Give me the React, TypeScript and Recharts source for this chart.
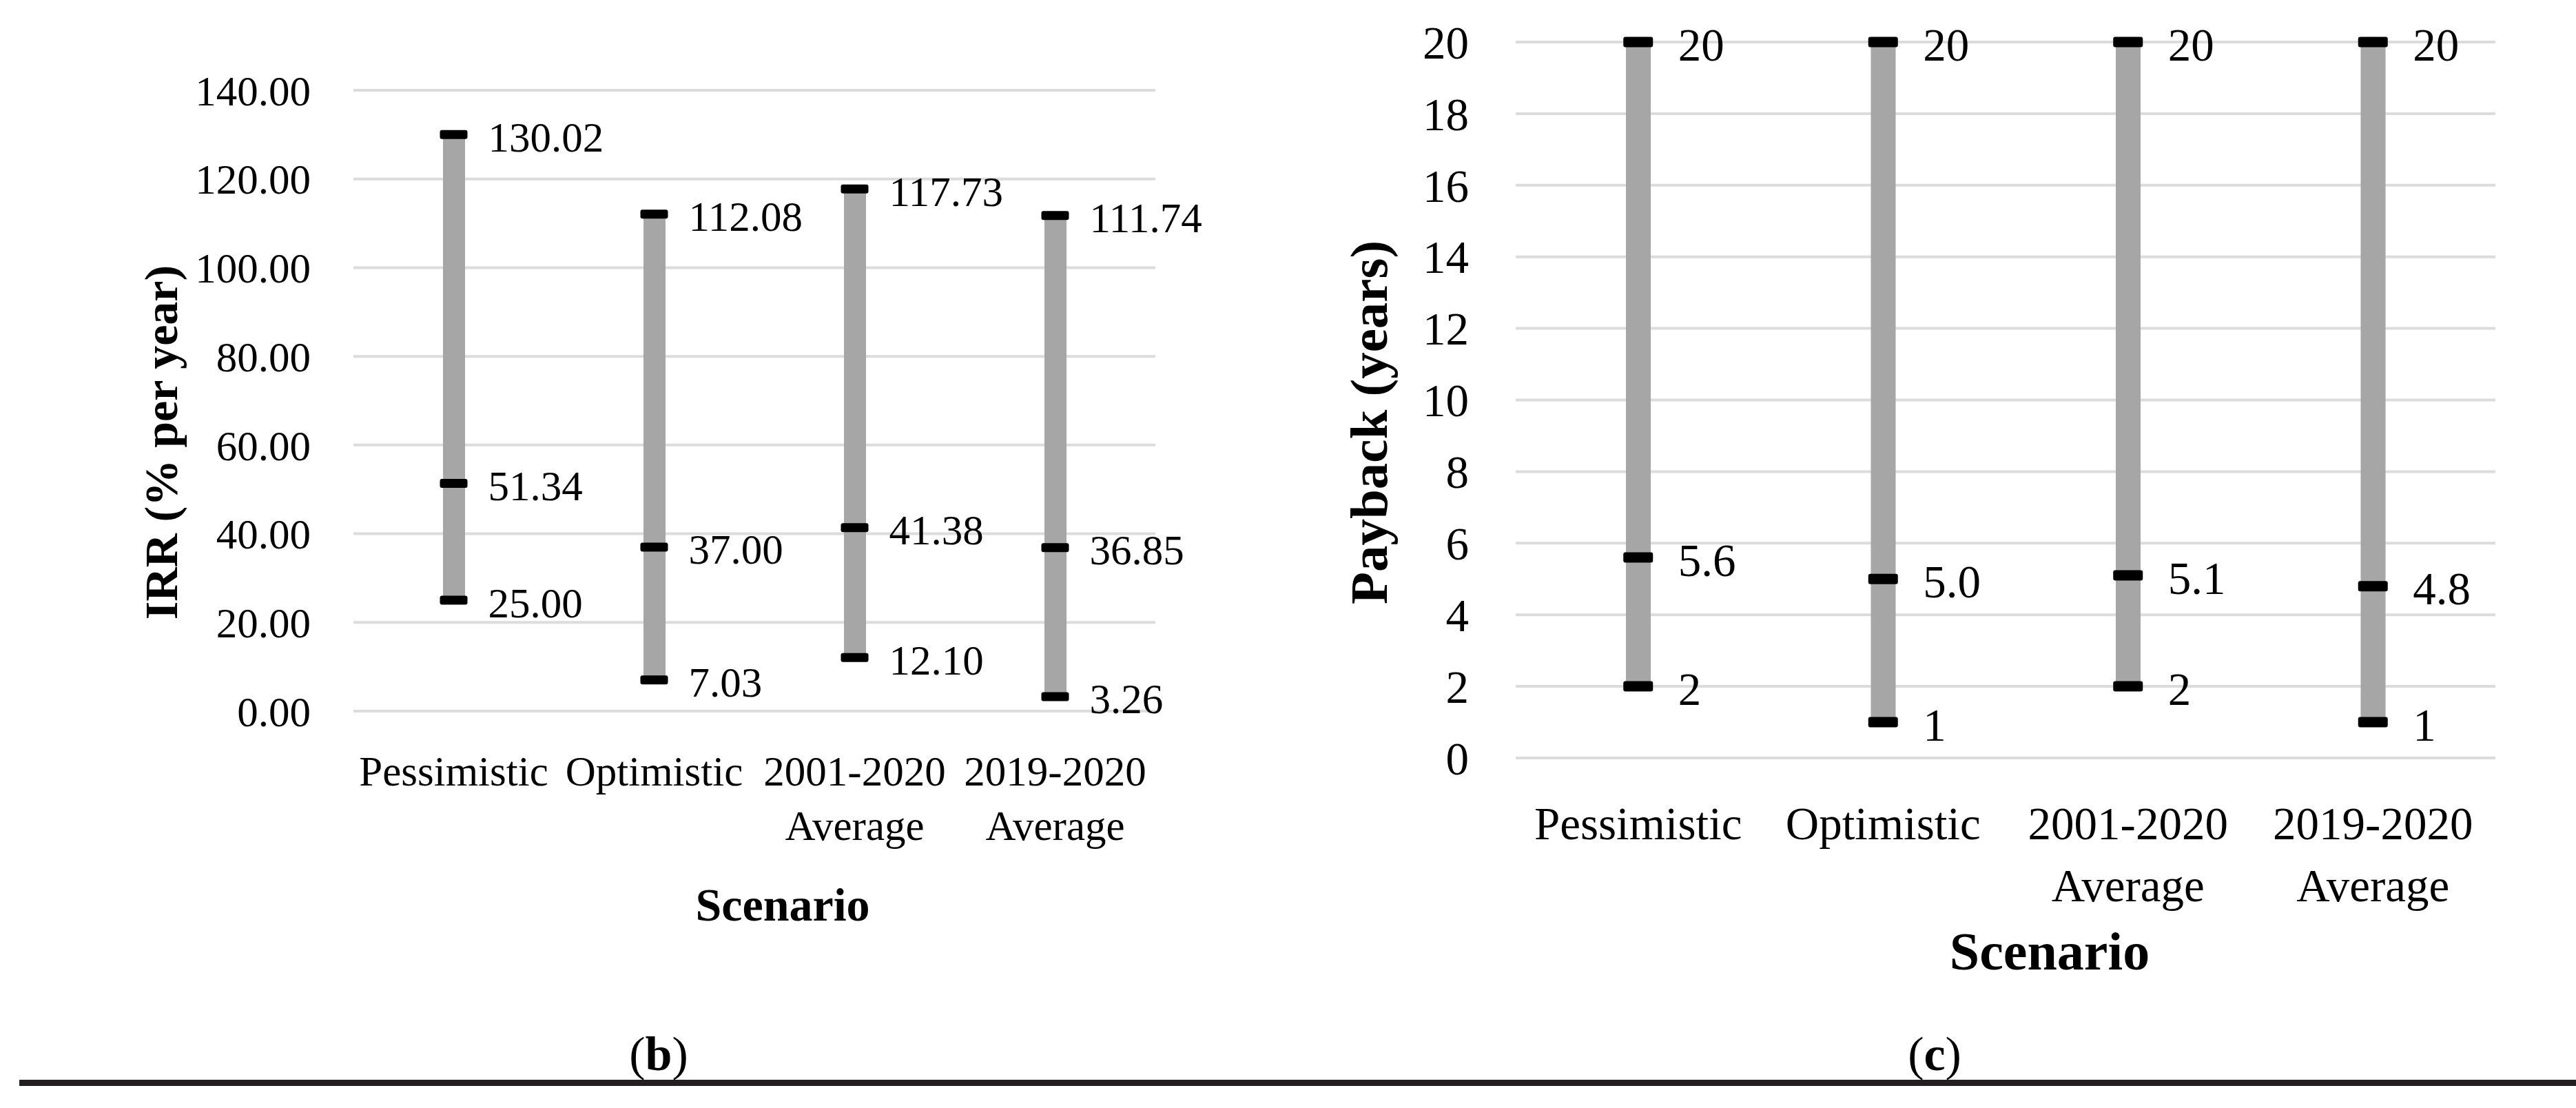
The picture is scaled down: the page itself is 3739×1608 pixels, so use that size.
import { ComposedChart, Bar, Line, XAxis, YAxis, CartesianGrid, LabelList, Label } from 'recharts';

const scenarios = ['Pessimistic', 'Optimistic', '2001-2020 Average', '2019-2020 Average'];

// IRR (% per year)
const irrLow = [25.0, 7.03, 12.1, 3.26];
const irrMid = [51.34, 37.0, 41.38, 36.85];
const irrHigh = [130.02, 112.08, 117.73, 111.74];
const irrTicks = [0, 20, 40, 60, 80, 100, 120, 140];

// Payback (years)
const paybackLow = [2, 1, 2, 1];
const paybackMid = [5.6, 5.0, 5.1, 4.8];
const paybackHigh = [20, 20, 20, 20];
const paybackTicks = [0, 2, 4, 6, 8, 10, 12, 14, 16, 18, 20];

const FONT = '"Liberation Serif", "Times New Roman", serif';
const BAR_GREY = '#a6a6a6';
const GRID = '#dcdcdc';

const buildRows = (low: number[], mid: number[], high: number[]) =>
    scenarios.map((name, i) => ({
        name,
        range: [low[i], high[i]],
        low: low[i],
        mid: mid[i],
        high: high[i],
    }));

const irrRows = buildRows(irrLow, irrMid, irrHigh);
const paybackRows = buildRows(paybackLow, paybackMid, paybackHigh);

function ScenarioTick(props: any) {
    const { x, y, payload, fontSize, firstGap, lineGap } = props;
    const lines = String(payload.value).split(' ');
    return (
        <text x={x} y={y} textAnchor="middle" fontFamily={FONT} fontSize={fontSize} fill="#000">
            {lines.map((ln, i) => (
                <tspan key={i} x={x} y={y + firstGap + i * lineGap}>
                    {ln}
                </tspan>
            ))}
        </text>
    );
}

type ChartProps = {
    rows: any[];
    width: number;
    height: number;
    margin: { top: number; right: number; left: number; bottom: number };
    yWidth: number;
    xHeight: number;
    domain: [number, number];
    ticks: number[];
    tickFmt: (v: number) => string;
    lowFmt: (v: number) => string;
    midFmt: (v: number) => string;
    highFmt: (v: number) => string;
    fontSize: number;
    tickMargin: number;
    firstGap: number;
    lineGap: number;
    barSize: number;
    capW: number;
    capH: number;
    labelOffset: number;
    yTitle: string;
    yTitleX: number;
    yTitleY: number;
    yTitleSize: number;
    xTitleX: number;
    xTitleY: number;
    xTitleSize: number;
};

function RangeChart(p: ChartProps) {
    const cap = (props: any) => {
        const { cx, cy, index } = props;
        if (cx == null || cy == null) return <g key={`c-${index}`} />;
        return (
            <rect
                key={`c-${index}`}
                x={cx - p.capW / 2}
                y={cy - p.capH / 2}
                width={p.capW}
                height={p.capH}
                rx={3}
                fill="#000"
            />
        );
    };

    const valueLabel = (fmt: (v: number) => string) => (props: any) => {
        const x = props.x ?? props.viewBox?.x;
        const y = props.y ?? props.viewBox?.y;
        return (
            <text
                x={x + p.labelOffset}
                y={y}
                dy="0.4em"
                fontFamily={FONT}
                fontSize={p.fontSize}
                fill="#000"
            >
                {fmt(Number(props.value))}
            </text>
        );
    };

    const series: [string, (v: number) => string][] = [
        ['low', p.lowFmt],
        ['mid', p.midFmt],
        ['high', p.highFmt],
    ];

    return (
        <ComposedChart width={p.width} height={p.height} data={p.rows} margin={p.margin}>
            <CartesianGrid vertical={false} stroke={GRID} strokeWidth={4} />
            <XAxis
                dataKey="name"
                interval={0}
                axisLine={false}
                tickLine={false}
                tickSize={0}
                tickMargin={0}
                height={p.xHeight}
                tick={(t: any) => (
                    <ScenarioTick {...t} fontSize={p.fontSize} firstGap={p.firstGap} lineGap={p.lineGap} />
                )}
            >
                <Label
                    content={() => (
                        <text
                            x={p.xTitleX}
                            y={p.xTitleY}
                            textAnchor="middle"
                            fontFamily={FONT}
                            fontSize={p.xTitleSize}
                            fontWeight="bold"
                            fill="#000"
                        >
                            Scenario
                        </text>
                    )}
                />
            </XAxis>
            <YAxis
                width={p.yWidth}
                domain={p.domain}
                ticks={p.ticks}
                interval={0}
                axisLine={false}
                tickLine={false}
                tickSize={0}
                tickMargin={p.tickMargin}
                tickFormatter={p.tickFmt}
                tick={{ fontFamily: FONT, fontSize: p.fontSize, fill: '#000' }}
            >
                <Label
                    content={() => (
                        <text
                            x={p.yTitleX}
                            y={p.yTitleY}
                            transform={`rotate(-90, ${p.yTitleX}, ${p.yTitleY})`}
                            textAnchor="middle"
                            fontFamily={FONT}
                            fontSize={p.yTitleSize}
                            fontWeight="bold"
                            fill="#000"
                        >
                            {p.yTitle}
                        </text>
                    )}
                />
            </YAxis>
            <Bar dataKey="range" fill={BAR_GREY} barSize={p.barSize} isAnimationActive={false} />
            {series.map(([key, fmt]) => (
                <Line
                    key={key}
                    dataKey={key}
                    stroke="none"
                    dot={cap}
                    activeDot={false}
                    legendType="none"
                    isAnimationActive={false}
                >
                    <LabelList dataKey={key} content={valueLabel(fmt)} />
                </Line>
            ))}
        </ComposedChart>
    );
}

const caption = (letter: string, cx: number) => (
    <div
        style={{
            position: 'absolute',
            left: cx - 100,
            top: 1490,
            width: 200,
            textAlign: 'center',
            fontFamily: FONT,
            fontSize: 70,
            lineHeight: '80px',
            color: '#000',
        }}
    >
        (<b>{letter}</b>)
    </div>
);

export default function App() {
    return (
        <div style={{ position: 'absolute', left: 0, top: 0, width: 3739, height: 1608, background: '#fff', overflow: 'hidden' }}>
            <div style={{ position: 'absolute', left: 0, top: 0 }}>
                <RangeChart
                    rows={irrRows}
                    width={1800}
                    height={1400}
                    margin={{ top: 131, right: 123, left: 0, bottom: 0 }}
                    yWidth={513}
                    xHeight={368}
                    domain={[0, 140]}
                    ticks={irrTicks}
                    tickFmt={(v) => v.toFixed(2)}
                    lowFmt={(v) => v.toFixed(2)}
                    midFmt={(v) => v.toFixed(2)}
                    highFmt={(v) => v.toFixed(2)}
                    fontSize={61}
                    tickMargin={62}
                    firstGap={108}
                    lineGap={79}
                    barSize={32}
                    capW={40}
                    capH={13}
                    labelOffset={50}
                    yTitle="IRR (% per year)"
                    yTitleX={257}
                    yTitleY={642}
                    yTitleSize={68}
                    xTitleX={1136}
                    xTitleY={1336}
                    xTitleSize={68}
                />
            </div>
            <div style={{ position: 'absolute', left: 1800, top: 0 }}>
                <RangeChart
                    rows={paybackRows}
                    width={1939}
                    height={1500}
                    margin={{ top: 61, right: 117, left: 0, bottom: 0 }}
                    yWidth={400}
                    xHeight={400}
                    domain={[0, 20]}
                    ticks={paybackTicks}
                    tickFmt={(v) => String(v)}
                    lowFmt={(v) => String(v)}
                    midFmt={(v) => v.toFixed(1)}
                    highFmt={(v) => String(v)}
                    fontSize={67}
                    tickMargin={68}
                    firstGap={118}
                    lineGap={90}
                    barSize={36}
                    capW={43}
                    capH={15}
                    labelOffset={58}
                    yTitle="Payback (years)"
                    yTitleX={213}
                    yTitleY={613}
                    yTitleSize={77}
                    xTitleX={1175}
                    xTitleY={1407}
                    xTitleSize={78}
                />
            </div>
            {caption('b', 956)}
            {caption('c', 2808)}
            <div style={{ position: 'absolute', left: 28, top: 1567, width: 3711, height: 9, background: '#231f20' }} />
        </div>
    );
}
